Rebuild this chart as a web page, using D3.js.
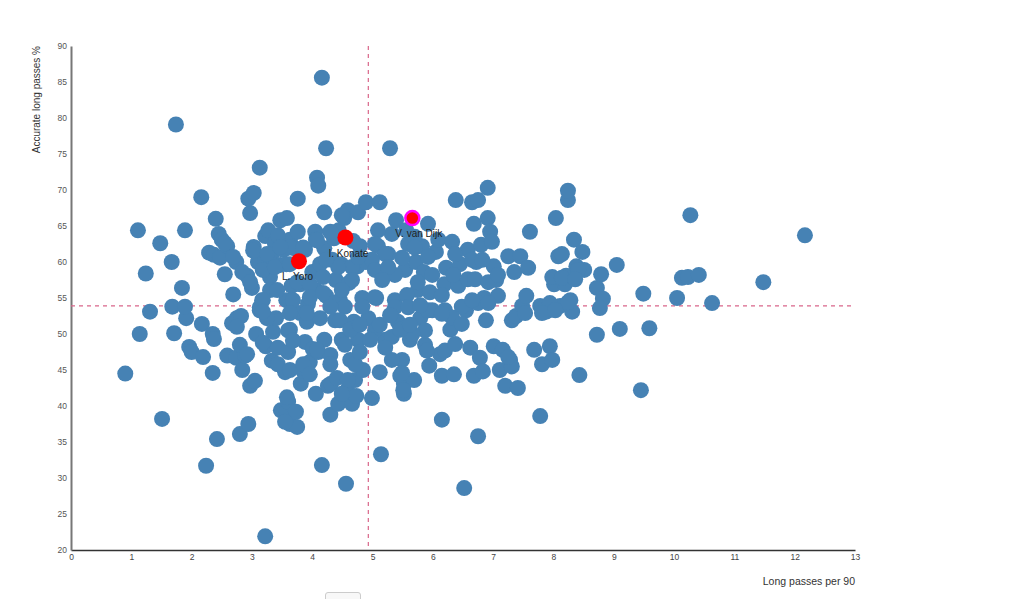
<!DOCTYPE html>
<html>
<head>
<meta charset="utf-8">
<script src="https://cdn.jsdelivr.net/npm/d3@7"></script>
<style>
  body { margin: 0; background: #fff; font-family: "Liberation Sans", Arial, sans-serif; }
  #chart { position: relative; width: 1024px; height: 599px; overflow: hidden; }
  .btn { position: absolute; left: 325px; top: 592px; width: 34px; height: 20px;
         border: 1px solid #ccc; border-radius: 3px; background: #f8f8f8; }
</style>
</head>
<body>
<div id="chart"><div class="btn"></div></div>
<script>
// long passes per 90 / accurate long passes %
const players = [
  [0.9,44.5],[1.14,50.0],[1.11,64.4],[1.24,58.4],[1.31,53.1],[1.48,62.6],[1.51,38.2],[1.74,79.1],[1.67,60.0],[1.68,53.8],
  [1.71,50.1],[1.84,56.4],[1.89,64.4],[1.91,52.2],[1.96,48.2],[2.0,47.5],[2.16,69.0],[2.17,51.4],[2.19,46.8],[2.24,31.7],
  [2.29,61.3],[2.35,50.0],[2.35,44.6],[2.4,66.0],[2.37,61.0],[2.42,35.4],[2.45,63.9],[2.47,60.6],[2.5,63.1],[2.55,58.3],
  [2.59,62.2],[2.59,47.0],[2.67,51.5],[2.69,55.5],[2.75,52.2],[2.74,46.7],[2.74,60.0],[2.8,36.1],[2.8,48.5],[2.82,52.5],
  [2.84,45.0],[2.89,47.0],[2.92,58.1],[2.94,37.5],[2.97,66.8],[2.94,68.8],[2.97,42.8],[3.0,56.4],[3.03,69.6],[3.05,43.5],
  [3.03,62.1],[3.07,50.0],[3.1,60.0],[3.13,73.1],[3.13,53.3],[3.17,54.7],[3.22,21.9],[3.22,60.3],[3.22,63.6],[3.23,48.3],
  [3.27,64.4],[3.3,57.9],[3.3,56.1],[3.33,61.1],[3.33,46.3],[3.35,50.3],[3.38,62.6],[3.4,52.2],[3.43,48.1],[3.47,65.8],
  [3.47,59.6],[3.48,39.4],[3.52,61.7],[3.55,44.7],[3.57,54.7],[3.58,66.1],[3.57,59.7],[3.6,47.5],[3.58,39.2],[3.6,40.6],
  [3.63,63.1],[3.63,50.6],[3.63,37.5],[3.66,56.7],[3.71,61.9],[3.73,39.2],[3.75,37.1],[3.76,68.8],[3.76,64.2],[3.8,56.9],
  [3.8,52.9],[3.81,43.1],[3.85,44.9],[3.88,61.7],[3.88,48.9],[3.91,51.7],[3.93,54.2],[3.96,46.1],[4.0,58.6],[4.01,47.9],
  [4.05,64.2],[4.06,63.1],[4.06,56.1],[4.08,71.7],[4.1,70.6],[4.06,41.7],[4.1,47.5],[4.13,52.2],[4.13,59.7],[4.16,85.6],
  [4.16,31.8],[4.2,66.9],[4.2,61.9],[4.2,49.2],[4.23,75.8],[4.23,55.3],[4.26,42.8],[4.3,38.8],[4.3,47.1],[4.31,43.1],
  [4.33,60.3],[4.36,63.3],[4.38,51.9],[4.39,57.5],[4.41,43.9],[4.43,40.3],[4.44,64.4],[4.46,54.7],[4.48,59.7],[4.49,49.2],
  [4.53,66.1],[4.56,29.2],[4.58,42.2],[4.59,67.2],[4.61,57.1],[4.63,46.4],[4.66,40.3],[4.68,62.9],[4.69,51.7],[4.71,43.6],
  [4.73,41.4],[4.75,59.4],[4.76,66.9],[4.76,49.2],[4.79,62.2],[4.83,55.0],[4.84,45.0],[4.89,68.3],[4.89,60.0],[4.93,52.2],
  [4.99,41.1],[5.06,55.0],[5.09,62.2],[5.12,68.3],[5.12,44.7],[5.14,33.3],[5.19,58.1],[5.21,49.2],[5.26,61.1],[5.29,75.8],
  [5.32,63.9],[5.37,54.7],[5.39,65.8],[5.42,51.7],[5.46,44.2],[5.49,46.4],[5.52,43.1],[5.52,41.7],[5.54,58.9],[5.56,64.4],
  [5.59,62.5],[5.62,49.2],[5.69,43.6],[5.72,60.0],[5.75,56.1],[5.79,52.2],[5.82,62.2],[5.85,58.6],[5.87,48.5],[5.92,65.3],
  [5.94,45.6],[5.95,55.8],[5.99,53.3],[6.05,61.4],[6.09,63.1],[6.12,47.2],[6.15,38.1],[6.15,44.2],[6.19,56.9],[6.22,59.2],
  [6.29,50.6],[6.32,62.8],[6.35,44.4],[6.38,68.6],[6.42,56.7],[6.45,59.7],[6.52,28.6],[6.55,53.3],[6.58,61.7],[6.62,48.1],
  [6.65,68.3],[6.68,65.3],[6.68,44.2],[6.72,60.0],[6.75,35.8],[6.78,46.7],[6.8,62.4],[6.85,55.0],[6.88,51.9],[6.91,70.3],
  [6.91,66.1],[6.95,64.2],[6.98,62.8],[7.01,59.4],[7.01,48.3],[7.05,57.5],[7.08,55.3],[7.11,45.0],[7.16,47.8],[7.2,42.8],
  [7.25,60.8],[7.28,46.4],[7.31,51.9],[7.35,58.6],[7.38,52.5],[7.41,42.5],[7.45,60.8],[7.48,53.9],[7.55,55.3],[7.58,59.2],
  [7.61,64.2],[7.68,47.8],[7.78,38.6],[7.78,53.9],[7.81,45.8],[7.88,53.1],[7.94,48.3],[7.98,46.4],[8.01,56.9],[8.04,66.1],
  [8.08,60.8],[8.11,53.9],[8.14,61.1],[8.19,56.9],[8.21,58.1],[8.24,68.6],[8.24,69.9],[8.28,54.7],[8.31,53.1],[8.34,63.1],
  [8.38,59.4],[8.43,44.3],[8.48,61.4],[8.51,58.9],[8.72,49.9],[8.72,56.4],[8.79,58.3],[8.82,54.9],[8.77,53.6],[9.05,59.6],
  [9.1,50.7],[9.45,42.2],[9.49,55.6],[9.59,50.8],[10.27,66.5],[12.17,63.7],[10.13,57.8],[10.23,57.9],[10.41,58.2],[10.05,55.0],
  [10.63,54.3],[11.48,57.2],
  [4.49,66.5],[5.09,64.4],[5.70,63.5],[6.75,68.6],[6.37,61.1],[6.65,60.3],[6.82,60.3],[8.41,58.9],[6.34,58.2],[6.58,57.6],
  [6.7,57.6],[6.92,57.2],[7.08,58.2],[7.98,57.9],[8.14,57.8],[8.36,57.6],[7.94,54.3],[8.24,54.4],[7.81,52.9],[6.75,54.3],
  [6.15,55.4],[5.99,58.2],[5.75,57.2],[5.57,55.4],[5.37,58.2],[5.49,60.6],[5.7,62.0],[5.92,60.7],[5.04,62.5],[5.21,61.1],
  [4.99,60.3],[4.66,59.3],[4.76,60.7],[5.04,58.9],[5.26,59.3],[5.16,57.5],[4.66,57.5],[4.43,59.3],[4.49,56.1],[5.04,55.1],
  [5.37,53.7],[5.59,53.7],[5.92,53.3],[6.2,53.3],[6.48,53.8],[6.65,54.7],[4.54,53.8],[4.83,53.8],
  [6.83,44.8],[7.31,45.5],[7.25,46.8],[7.53,52.9],[8.03,53.3],[6.92,54.3],[5.49,44.6],[5.51,42.2],[5.32,46.4],[5.9,47.7],
  [6.2,47.7],[6.37,48.6],[6.32,52.3],[6.48,51.4],[6.15,52.8],[5.87,50.5],[5.66,50.0],[5.32,49.6],[5.04,50.5],[4.71,45.8],
  [4.59,43.6],[4.49,41.7],
  [2.37,49.3],[2.92,47.2],[2.75,51.0],[1.89,53.8],[3.18,48.8],[3.6,50.5],[3.68,49.1],[3.43,45.8],[3.63,45.0],[3.85,45.8],
  [3.96,44.4],[3.58,41.2],[3.55,37.8],[3.25,52.2],[3.13,53.7],[4.08,47.8],[4.3,45.8],
  [2.55,62.6],[2.69,60.7],[2.84,58.6],[2.97,57.2],[3.02,61.6],[3.43,63.7],[3.63,62.0],[3.85,62.0],[4.08,63.0],[4.3,64.2],
  [4.23,60.3],[3.25,61.1],[3.47,62.1],[3.18,58.9],[3.38,59.3],[3.63,59.7],[3.75,57.2],[3.96,56.9],[4.18,57.9],[3.42,56.1],
  [3.68,54.7],[3.96,55.1],[4.18,55.7],[3.18,54.7],[4.3,53.8],[3.18,53.1],[3.63,52.9],[3.91,52.9],
  [4.46,51.9],[4.63,50.6],[4.79,51.3],[4.54,48.5],[4.79,47.5],[4.96,49.2],[5.12,51.3],[5.29,52.6],[5.46,50.6],[5.62,51.3],
  [5.79,54.0],[5.21,48.1]
];

const highlightNames = ["L. Yoro", "I. Konate", "V. van Dijk"];
const highlightX = [3.78, 4.55, 5.66];
const highlightY = [60.1, 63.4, 66.1];

const xTicks = [0,1,2,3,4,5,6,7,8,9,10,11,12,13];
const yTicks = [20,25,30,35,40,45,50,55,60,65,70,75,80,85,90];
const medianX = 4.93;
const medianY = 53.9;

const margin = {left: 71, top: 46, right: 169, bottom: 49};
const W = 1024, H = 599;

const svg = d3.select("#chart").append("svg")
  .attr("width", W).attr("height", H)
  .style("position", "absolute").style("left", 0).style("top", 0);

const x = d3.scaleLinear().domain([0, 13]).range([margin.left, W - margin.right]);
const y = d3.scaleLinear().domain([20, 90]).range([H - margin.bottom, margin.top]);

// axes
const xAxis = svg.append("g")
  .attr("transform", `translate(0,${y(20)})`)
  .call(d3.axisBottom(x).tickValues(xTicks).tickSize(0).tickPadding(4));
xAxis.select(".domain").attr("stroke", "#333").attr("stroke-width", 1.5);
xAxis.selectAll("text").attr("font-size", 8.5).attr("fill", "#444")
  .attr("font-family", "Liberation Sans, Arial, sans-serif");

const yAxis = svg.append("g")
  .attr("transform", `translate(${x(0)},0)`)
  .call(d3.axisLeft(y).tickValues(yTicks).tickSize(0).tickPadding(4));
yAxis.select(".domain").attr("stroke", "#777").attr("stroke-width", 2);
yAxis.selectAll("text").attr("font-size", 8.5).attr("fill", "#555")
  .attr("font-family", "Liberation Sans, Arial, sans-serif");

svg.append("text")
  .attr("transform", `translate(40,${y(90)}) rotate(-90)`)
  .attr("text-anchor", "end")
  .attr("font-size", 10).attr("fill", "#333")
  .text("Accurate long passes %");

svg.append("text")
  .attr("x", x(13)).attr("y", 585)
  .attr("text-anchor", "end")
  .attr("font-size", 10.5).attr("fill", "#333")
  .text("Long passes per 90");

// median lines
svg.append("line")
  .attr("x1", x(0)).attr("x2", x(13))
  .attr("y1", y(medianY)).attr("y2", y(medianY))
  .attr("stroke", "#d9668a").attr("stroke-width", 1.2).attr("stroke-dasharray", "4,4");
svg.append("line")
  .attr("x1", x(medianX)).attr("x2", x(medianX))
  .attr("y1", y(90)).attr("y2", y(20))
  .attr("stroke", "#d9668a").attr("stroke-width", 1.2).attr("stroke-dasharray", "4,4");

// dots
svg.append("g").selectAll("circle")
  .data(players)
  .join("circle")
  .attr("cx", d => x(d[0]))
  .attr("cy", d => y(d[1]))
  .attr("r", 8)
  .attr("fill", "#4682b4");

const hl = highlightNames.map((n, i) => ({name: n, x: highlightX[i], y: highlightY[i]}));

svg.append("g").selectAll("text")
  .data(hl)
  .join("text")
  .attr("x", d => x(d.x) - 17)
  .attr("y", d => y(d.y) + 19)
  .attr("font-size", 10).attr("fill", "#222")
  .text(d => d.name);

svg.append("g").selectAll("circle")
  .data(hl)
  .join("circle")
  .attr("cx", d => x(d.x))
  .attr("cy", d => y(d.y))
  .attr("r", d => d.name === "V. van Dijk" ? 7 : 8)
  .attr("fill", "red")
  .attr("stroke", d => d.name === "V. van Dijk" ? "#ff00ff" : "none")
  .attr("stroke-width", 2.5);
</script>
</body>
</html>
